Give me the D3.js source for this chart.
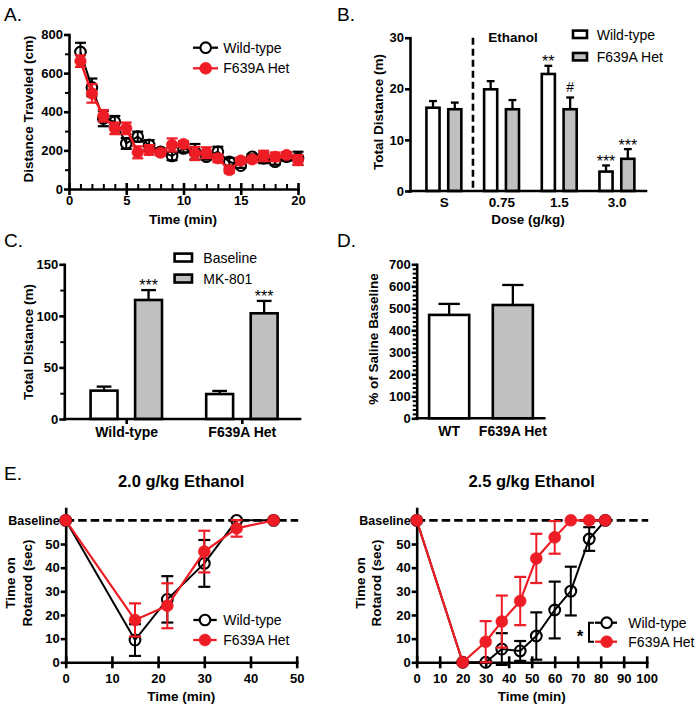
<!DOCTYPE html>
<html><head><meta charset="utf-8">
<script src="https://cdn.jsdelivr.net/npm/d3@7"></script>
<style>
body{margin:0;background:#fff;}
svg{display:block;background:#fff;}
</style></head><body>
<svg id="c" width="699" height="711"></svg>
<script>
// ---------------- DATA ----------------
// Panel A: distance traveled per minute
const aTime   = [1,2,3,4,5,6,7,8,9,10,11,12,13,14,15,16,17,18,19,20];
const aWT     = [710,526,365,348,236,271,228,193,171,210,193,167,193,141,121,167,159,141,167,159];
const aWTerr  = [47,46,40,30,28,26,25,15,22,20,40,15,26,20,12,12,25,15,20,34];
const aHet    = [662,495,379,314,314,190,202,188,228,233,184,188,159,98,147,153,171,167,176,150];
const aHetErr = [30,48,30,30,30,31,25,15,34,15,34,28,20,15,15,15,27,22,15,26];
const aYTicks = [0,200,400,600,800];
const aXTicks = [0,5,10,15,20];

// Panel B: ethanol dose
const bDoses   = ["S","0.75","1.5","3.0"];
const bWT      = [16.3,19.9,22.9,3.8];
const bWTerr   = [1.3,1.6,1.6,1.2];
const bHet     = [16.0,16.0,16.0,6.3];
const bHetErr  = [1.3,1.8,2.3,1.9];
const bWTsig   = ["","","**","***"];
const bHetSig  = ["","","#","***"];
const bYTicks  = [0,10,20,30];

// Panel C: MK-801
const cGroups  = ["Wild-type","F639A Het"];
const cBase    = [27.5,24.2];
const cBaseErr = [3.9,3.0];
const cMK      = [115.4,102.5];
const cMKerr   = [9.6,12.0];
const cSig     = ["***","***"];
const cYTicks  = [0,50,100,150];

// Panel D: % of saline baseline
const dGroups  = ["WT","F639A Het"];
const dVals    = [470,515];
const dErr     = [50,91];
const dYTicks  = [0,100,200,300,400,500,600,700];

// Panel E left: 2.0 g/kg rotarod
const e1Time   = [0,15,22,30,37,45];
const e1WT     = [60,9.4,26.6,41.8,60,60];
const e1WTerr  = [0,6.7,9.8,9.9,0,0];
const e1Het    = [60,17.9,23.9,46.8,56.6,60];
const e1HetErr = [0,7.0,9.5,8.8,3.5,0];
const e1XTicks = [0,10,20,30,40,50];

// Panel E right: 2.5 g/kg rotarod
const e2Time   = [0,20,30,37,45,52,60,67,75,82];
const e2WT     = [60,0,0,5.6,4.8,11.1,22.1,30.1,52.1,60];
const e2WTerr  = [0,0,0,6.7,4.2,10.0,12.0,10.3,5.0,0];
const e2Het    = [60,0,8.7,17.2,25.9,43.9,52.8,60,60,60];
const e2HetErr = [0,0,8.7,11.0,10.2,10.4,6.9,0,0,0];
const e2XTicks = [0,10,20,30,40,50,60,70,80,90,100];
const eYTicks  = [0,10,20,30,40,50,60];

// ---------------- STYLE ----------------
const FONT = '"Liberation Sans", Arial, Helvetica, sans-serif';
const RED = "#ee1c24";
const GRAY = "#c0c0c0";
const AX = 2.6;
const svg = d3.select("#c");

function txt(x,y,s,o={}){
  const t = svg.append("text").attr("x",x).attr("y",y).text(s)
    .attr("font-family",FONT).attr("font-size",o.size||13.5)
    .attr("font-weight",o.weight||"bold").attr("fill",o.fill||"#000")
    .attr("text-anchor",o.anchor||"start");
  return t;
}
function vtxt(cx,cy,s,o={}){
  svg.append("text").attr("transform",`translate(${cx},${cy}) rotate(-90)`)
    .attr("dy","0.35em").attr("text-anchor","middle").text(s)
    .attr("font-family",FONT).attr("font-size",o.size||13.5)
    .attr("font-weight","bold").attr("fill","#000");
}
function styleAxis(g,size){
  g.attr("font-family",FONT).attr("font-size",size||13).attr("font-weight","bold");
  g.select(".domain").attr("stroke","#000").attr("stroke-width",AX).attr("stroke-linecap","square");
  g.selectAll(".tick line").attr("stroke","#000").attr("stroke-width",AX);
  g.selectAll(".tick text").attr("fill","#000");
}
function yAxis(scale,x,major,minor,fmt,size){
  const ax = d3.axisLeft(scale).tickValues(major).tickSize(5).tickSizeOuter(0).tickPadding(1);
  if(fmt) ax.tickFormat(fmt);
  const g = svg.append("g").attr("transform",`translate(${x},0)`).call(ax);
  styleAxis(g,size);
  if(minor){
    const m = svg.append("g").attr("transform",`translate(${x},0)`)
      .call(d3.axisLeft(scale).tickValues(minor).tickSize(4).tickFormat(""));
    m.select(".domain").remove();
    m.selectAll(".tick line").attr("stroke","#000").attr("stroke-width",2);
  }
  return g;
}
function xAxisLinear(scale,y,major,minor,offset){
  const ax = d3.axisBottom(scale).tickValues(major).tickSize(6).tickSizeOuter(0).tickPadding(offset-6);
  const g = svg.append("g").attr("transform",`translate(0,${y})`).call(ax);
  styleAxis(g,13);
  g.selectAll(".tick line").attr("y1",-6);
  if(minor){
    const m = svg.append("g").attr("transform",`translate(0,${y})`)
      .call(d3.axisBottom(scale).tickValues(minor).tickSize(1).tickFormat(""));
    m.select(".domain").remove();
    m.selectAll(".tick line").attr("y1",-5).attr("stroke","#000").attr("stroke-width",2);
  }
  return g;
}
function xAxisBand(band,x0,x1,y,tick,offset,size){
  svg.append("line").attr("x1",x0).attr("x2",x1).attr("y1",y).attr("y2",y)
    .attr("stroke","#000").attr("stroke-width",AX).attr("stroke-linecap","square");
  const ax = d3.axisBottom(band).tickSize(tick).tickSizeOuter(0).tickPadding(offset-tick);
  const g = svg.append("g").attr("transform",`translate(0,${y})`).call(ax);
  styleAxis(g,size||13.5);
  g.select(".domain").remove();
  if(tick===0) g.selectAll(".tick line").remove();
  return g;
}
function bars(xs,bw,vals,errs,y,fill){
  vals.forEach((v,i)=>{
    const x = xs[i];
    const top = y(v+errs[i]);
    const cx = x+bw/2;
    svg.append("line").attr("x1",cx).attr("x2",cx).attr("y1",y(v)).attr("y2",top)
      .attr("stroke","#000").attr("stroke-width",2.3);
    svg.append("line").attr("x1",cx-bw/4).attr("x2",cx+bw/4).attr("y1",top).attr("y2",top)
      .attr("stroke","#000").attr("stroke-width",2.3);
    svg.append("rect").attr("x",x+AX/2).attr("y",y(v)).attr("width",bw-AX)
      .attr("height",y(0)-y(v)).attr("fill",fill).attr("stroke","#000").attr("stroke-width",AX);
  });
}
function series(xs,vals,errs,x,y,color,filled,r,lw,cap){
  const line = d3.line().x((d,i)=>x(xs[i])).y(d=>y(d));
  svg.append("path").datum(vals).attr("d",line).attr("fill","none")
    .attr("stroke",color).attr("stroke-width",lw);
  vals.forEach((v,i)=>{
    if(!errs[i]) return;
    const cx = x(xs[i]), y1 = y(v-errs[i]), y2 = y(v+errs[i]);
    svg.append("line").attr("x1",cx).attr("x2",cx).attr("y1",y1).attr("y2",y2).attr("stroke",color).attr("stroke-width",2);
    [y1,y2].forEach(yy=>svg.append("line").attr("x1",cx-cap).attr("x2",cx+cap).attr("y1",yy).attr("y2",yy).attr("stroke",color).attr("stroke-width",2.2));
  });
  vals.forEach((v,i)=>{
    svg.append("circle").attr("cx",x(xs[i])).attr("cy",y(v)).attr("r",r)
      .attr("fill",filled?color:"#fff").attr("fill-opacity",filled?1:0)
      .attr("stroke",filled?color:color).attr("stroke-width",filled?0.5:2.1);
  });
}
function lineLegend(x0,x1,cx,tx,ys,labels,colors,filled){
  ys.forEach((yy,i)=>{
    svg.append("line").attr("x1",x0).attr("x2",x1).attr("y1",yy).attr("y2",yy).attr("stroke",colors[i]).attr("stroke-width",2.3);
    svg.append("circle").attr("cx",cx).attr("cy",yy).attr("r",filled[i]?6:5.3)
      .attr("fill",filled[i]?colors[i]:"#fff").attr("stroke",colors[i]).attr("stroke-width",filled[i]?0.5:2.1);
    txt(tx,yy+5,labels[i],{size:14,weight:"normal"});
  });
}
function boxLegend(bx,bw,bh,tx,ys,labels,fills){
  ys.forEach((yy,i)=>{
    svg.append("rect").attr("x",bx+AX/2).attr("y",yy+AX/2).attr("width",bw-AX).attr("height",bh-AX)
      .attr("fill",fills[i]).attr("stroke","#000").attr("stroke-width",AX);
    txt(tx,yy+bh+0.5,labels[i],{size:14,weight:"normal"});
  });
}

// ---------------- PANEL LABELS ----------------
txt(4,21,"A.",{size:19,weight:"normal"});
txt(337,21,"B.",{size:19,weight:"normal"});
txt(4,247,"C.",{size:19,weight:"normal"});
txt(337,247,"D.",{size:19,weight:"normal"});
txt(4,480,"E.",{size:19,weight:"normal"});

// ---------------- PANEL A ----------------
{
  const x = d3.scaleLinear([0,20],[69,298]);
  const y = d3.scaleLinear([0,800],[189,34.5]);
  yAxis(y,69,aYTicks,[100,300,500,700]);
  const minor = aTime.filter(t=>t%5!==0);
  xAxisLinear(x,189,aXTicks,minor,7);
  series(aTime,aWT,aWTerr,x,y,"#000",false,5.3,2,5.5);
  series(aTime,aHet,aHetErr,x,y,RED,true,5.8,2.5,5.5);
  vtxt(28,109,"Distance Traveled (cm)");
  txt(183,224,"Time (min)",{anchor:"middle"});
  lineLegend(193,218,205.7,223.3,[47.7,68.3],["Wild-type","F639A Het"],["#000",RED],[false,true]);
}

// ---------------- PANEL B ----------------
{
  const y = d3.scaleLinear([0,30],[191,37.7]);
  const xb = d3.scaleBand(bDoses,[415.3,646]).paddingInner(0).paddingOuter(0);
  const inner = d3.scaleBand(["WT","Het"],[-19,18.5]).paddingInner(0.28);
  const bw = inner.bandwidth();
  // dashed separator between saline and ethanol
  const sep = xb("0.75");
  svg.append("line").attr("x1",sep).attr("x2",sep).attr("y1",y(30)).attr("y2",y(0))
    .attr("stroke","#000").attr("stroke-width",2.6).attr("stroke-dasharray","7,4");
  const cx = bDoses.map(d=>xb(d)+xb.bandwidth()/2);
  bars(cx.map(c=>c+inner("WT")),bw,bWT,bWTerr,y,"#fff");
  bars(cx.map(c=>c+inner("Het")),bw,bHet,bHetErr,y,GRAY);
  yAxis(y,410,bYTicks);
  xAxisBand(xb,410,646,191,0,6.4,13.5);
  const sig = (arr,vals,errs,off)=>arr.forEach((s,i)=>{
    if(!s) return;
    const xx = cx[i]+off+bw/2, top = y(vals[i]+errs[i]);
    if(s==="#") txt(xx,top-5.5,s,{size:14,weight:"normal",anchor:"middle"});
    else txt(xx,top+1.5,s,{size:16,weight:"normal",anchor:"middle"});
  });
  sig(bWTsig,bWT,bWTerr,inner("WT"));
  sig(bHetSig,bHet,bHetErr,inner("Het"));
  txt(488.3,41.5,"Ethanol",{size:13.5});
  vtxt(378.3,112,"Total Distance (m)");
  txt(528,224,"Dose (g/kg)",{anchor:"middle"});
  boxLegend(571.7,16.6,10,596.7,[29.3,51.7],["Wild-type","F639A Het"],["#fff",GRAY]);
}

// ---------------- PANEL C ----------------
{
  const y = d3.scaleLinear([0,150],[419,264.3]);
  const xb = d3.scaleBand(cGroups,[68.9,300.1]);
  const inner = d3.scaleBand(["base","mk"],[-37.4,36.6]).paddingInner(0.337);
  const bw = inner.bandwidth();
  const cx = cGroups.map(d=>xb(d)+xb.bandwidth()/2);
  bars(cx.map(c=>c+inner("base")),bw,cBase,cBaseErr,y,"#fff");
  bars(cx.map(c=>c+inner("mk")),bw,cMK,cMKerr,y,GRAY);
  yAxis(y,64.3,cYTicks,[25,75,125]);
  xAxisBand(xb,64.3,300,419,5,8,14);
  cSig.forEach((s,i)=>txt(cx[i]+inner("mk")+bw/2,y(cMK[i]+cMKerr[i])+1,s,{size:16,weight:"normal",anchor:"middle"}));
  vtxt(28,342,"Total Distance (m)");
  boxLegend(173.3,20,10.5,203.3,[252.3,273.3],["Baseline","MK-801"],["#fff",GRAY]);
}

// ---------------- PANEL D ----------------
{
  const y = d3.scaleLinear([0,700],[418.3,264.3]);
  const xb = d3.scaleBand(dGroups,[417,545]).paddingInner(0.33).paddingOuter(0.17);
  const bw = xb.bandwidth();
  bars([xb("WT")],bw,[dVals[0]],[dErr[0]],y,"#fff");
  bars([xb("F639A Het")],bw,[dVals[1]],[dErr[1]],y,GRAY);
  const minor = d3.range(20,700,20).filter(v=>v%100!==0);
  yAxis(y,416.7,dYTicks,minor);
  xAxisBand(xb,416.7,544.3,418.3,0,8,14);
  vtxt(373.3,339,"% of Saline Baseline");
}

// ---------------- PANEL E ----------------
function rotarod(x0,x1,xmax,xticks,time1,wt,wtErr,time2,het,hetErr,title){
  const x = d3.scaleLinear([0,xmax],[x0,x1]);
  const y = d3.scaleLinear([0,65],[662.3,508.5]);
  svg.append("line").attr("x1",x(0)).attr("x2",x(xmax)+1.5).attr("y1",y(60)).attr("y2",y(60))
    .attr("stroke","#000").attr("stroke-width",2.7).attr("stroke-dasharray","8.5,4");
  yAxis(y,x0,eYTicks,null,d=>d===60?"":d);
  // Baseline label
  txt(x0-6,y(60)+4.5,"Baseline",{size:12.5,anchor:"end"});
  xAxisLinear(x,662.3,xticks,null,11.5);
  series(time1,wt,wtErr,x,y,"#000",false,5.4,2,6);
  series(time2,het,hetErr,x,y,RED,true,6,2.2,6);
  txt((x0+x1)/2,487,title,{size:16.5,anchor:"middle"});
  txt((x0+x1)/2,701,"Time (min)",{anchor:"middle"});
  return x;
}
rotarod(65.7,296.7,50,e1XTicks,e1Time,e1WT,e1WTerr,e1Time,e1Het,e1HetErr,"2.0 g/kg Ethanol");
rotarod(416.7,646.7,100,e2XTicks,e2Time,e2WT,e2WTerr,e2Time,e2Het,e2HetErr,"2.5 g/kg Ethanol");
vtxt(10,583,"Time on");
vtxt(27.3,583,"Rotarod (sec)");
vtxt(360,583,"Time on");
vtxt(376.7,583,"Rotarod (sec)");
lineLegend(193.3,216.7,205,223.3,[620,640],["Wild-type","F639A Het"],["#000",RED],[false,true]);
lineLegend(595,617,606.7,628.3,[622.7,641.7],["Wild-type","F639A Het"],["#000",RED],[false,true]);
// significance bracket
svg.append("path").attr("d","M594,622.7 H589 V641.7 H594").attr("fill","none").attr("stroke","#000").attr("stroke-width",2);
txt(580,642,"*",{size:17,anchor:"middle"});
</script>
</body></html>
